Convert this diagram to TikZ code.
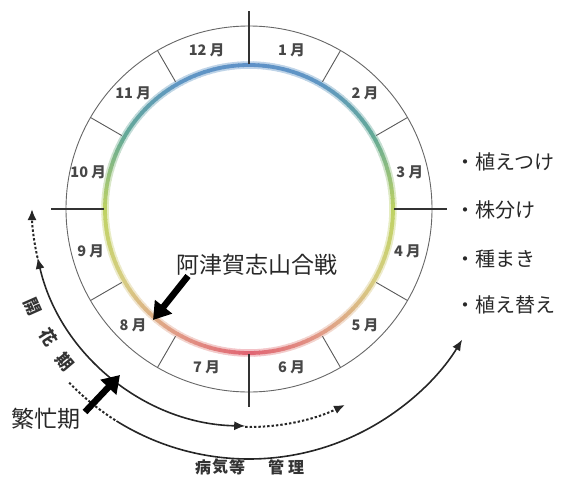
\documentclass[tikz,border=0pt]{standalone}
\usepackage{fontspec}
\newfontfamily\jp{Noto Sans CJK JP}
\usetikzlibrary{arrows.meta}
\definecolor{k0}{RGB}{95,145,200}
\definecolor{k1}{RGB}{95,150,195}
\definecolor{k2}{RGB}{100,170,150}
\definecolor{k3}{RGB}{190,210,100}
\definecolor{k4}{RGB}{215,205,130}
\definecolor{k5}{RGB}{225,155,135}
\definecolor{k6}{RGB}{225,100,115}
\definecolor{ink}{RGB}{40,40,40}
\begin{document}
\begin{tikzpicture}[x=1pt,y=1pt,
  mon/.style={font=\jp\bfseries\fontsize{14.5}{14.5}\selectfont, text=black!72, inner sep=0pt},
  listtxt/.style={font=\jp\fontsize{20}{20}\selectfont, text=ink, anchor=west, inner sep=0pt},
  bigtxt/.style={font=\jp\fontsize{23}{23}\selectfont, text=ink, inner sep=0pt},
  arctxt/.style={font=\jp\bfseries\fontsize{17}{17}\selectfont, text=black!80, inner sep=0pt},
  btxt/.style={font=\jp\bfseries\fontsize{16}{16}\selectfont, text=black!80, inner sep=0pt},
  circline/.style={draw=black!60, line width=0.9pt},
  sepline/.style={draw=black!65, line width=0.9pt},
  crossline/.style={draw=black!80, line width=1.3pt},
  arcline/.style={draw=black!85, line width=1.6pt},
  dotline/.style={draw=black!85, line width=2pt, dash pattern=on 2.4pt off 2pt},
  tipA/.style={-{Latex[length=11pt,width=9pt]}},
  fatarrow/.style={draw=black, line width=6.5pt, -{Triangle[length=17pt,width=21pt]}}
]
\useasboundingbox (-249,-268) rectangle (315,209);

% coloured ring: soft halo, then core
\foreach \a in {0,2,...,358}{
  \pgfmathsetmacro\ph{abs(mod(\a+451,360)-180)}
  \pgfmathtruncatemacro\idx{min(floor(\ph/30),5)}
  \pgfmathtruncatemacro\nxt{\idx+1}
  \pgfmathtruncatemacro\pct{round(100-100*(\ph-30*\idx)/30)}
  \colorlet{segc}{k\idx!\pct!k\nxt}
  \draw[segc!40!white, line width=7.5pt] (\a:144) arc[start angle=\a, end angle=\a+2.4, radius=144];
}
\foreach \a in {0,2,...,358}{
  \pgfmathsetmacro\ph{abs(mod(\a+451,360)-180)}
  \pgfmathtruncatemacro\idx{min(floor(\ph/30),5)}
  \pgfmathtruncatemacro\nxt{\idx+1}
  \pgfmathtruncatemacro\pct{round(100-100*(\ph-30*\idx)/30)}
  \colorlet{segc}{k\idx!\pct!k\nxt}
  \draw[segc, line width=3.8pt] (\a:144) arc[start angle=\a, end angle=\a+2.4, radius=144];
}

% outer circle
\coordinate (c0) at (0,0);
\draw[circline] (c0) circle[radius=183];

% month separators
\foreach \t in {30,60,120,150,210,240,300,330}{
  \coordinate (si\t) at (\t:147);
  \coordinate (so\t) at (\t:183);
  \draw[sepline] (si\t) -- (so\t);
}
% cross lines
\foreach \t in {0,90,180,270}{
  \coordinate (ci\t) at (\t:145);
  \coordinate (co\t) at (\t:198);
  \draw[crossline] (ci\t) -- (co\t);
}

% month labels
\node[mon] (m1) at (75:164) {1 月};
\node[mon] (m2) at (45:164) {2 月};
\node[mon] (m3) at (13:165) {3 月};
\node[mon] (m4) at (-15:164) {4 月};
\node[mon] (m5) at (-45:164) {5 月};
\node[mon] (m6) at (-75:164) {6 月};
\node[mon] (m7) at (-105:164) {7 月};
\node[mon] (m8) at (-135:164) {8 月};
\node[mon] (m9) at (-165:164) {9 月};
\node[mon] (m10) at (167:165) {10 月};
\node[mon] (m11) at (135:164) {11 月};
\node[mon] (m12) at (105:164) {12 月};

% flowering period arcs
\coordinate (fa) at (193:217);
\coordinate (fb) at (269:218);
\draw[dotline, tipA] (fa) arc[start angle=193, end angle=180, radius=217];
\draw[arcline, {Latex[length=11pt,width=9pt]}-{Latex[length=11pt,width=9pt]}] (fa) arc[start angle=193, end angle=269, radius=217];
\draw[dotline, tipA] (fb) arc[start angle=269, end angle=296, radius=219];

% disease management arc
\coordinate (ga) at (224:250);
\coordinate (gb) at (238:250);
\draw[dotline] (ga) arc[start angle=224, end angle=238, radius=250];
\draw[arcline, tipA] (gb) arc[start angle=238, end angle=328.5, radius=250];

% 開花期 along arc
\node[arctxt, rotate=-66] (k1) at (204.3:238) {開};
\node[arctxt, rotate=-57.5] (k2) at (212.5:238) {花};
\node[arctxt, rotate=-50] (k3) at (219.7:239) {期};

% 病気等 管理
\node[btxt] (b1) at (-46,-258) {病};
\node[btxt] (b2) at (-29,-258) {気};
\node[btxt] (b3) at (-12,-258) {等};
\node[btxt] (b4) at (27,-258) {管};
\node[btxt] (b5) at (47,-258) {理};

% right list
\node[listtxt] (l1) at (206,47) {・植えつけ};
\node[listtxt] (l2) at (206,-1) {・株分け};
\node[listtxt] (l3) at (206,-50) {・種まき};
\node[listtxt] (l4) at (206,-96) {・植え替え};

% battle label
\node[bigtxt] (atsu) at (8,-56) {阿津賀志山合戦};
\coordinate (atsuS) at (-61,-67);
\coordinate (atsuT) at (-96,-111);
\draw[fatarrow] (atsuS) -- (atsuT);

% busy period label
\node[bigtxt] (busy) at (-203,-210) {繁忙期};
\coordinate (busyS) at (-164,-203);
\coordinate (busyT) at (-129,-166);
\draw[fatarrow] (busyS) -- (busyT);
\end{tikzpicture}
\end{document}
